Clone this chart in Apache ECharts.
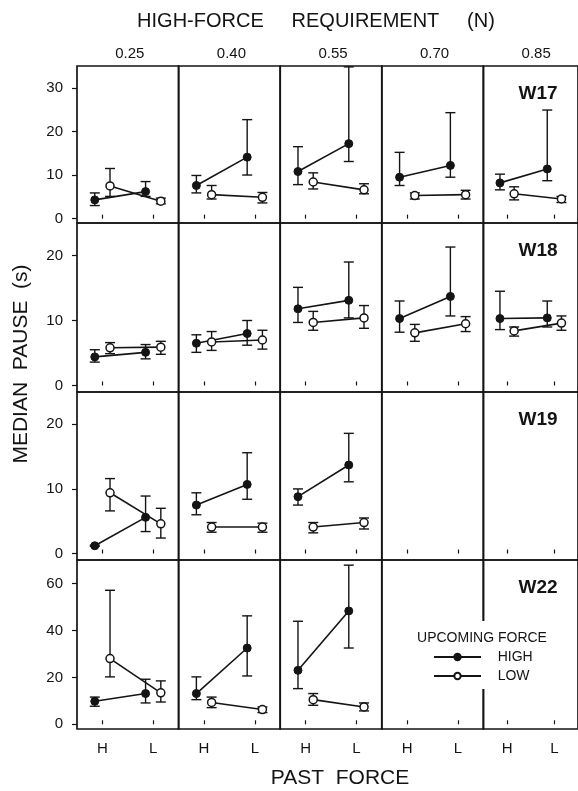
<!DOCTYPE html>
<html>
<head>
<meta charset="utf-8">
<script src="https://cdn.jsdelivr.net/npm/echarts@6/dist/echarts.min.js"></script>
<style>
html,body{margin:0;padding:0;background:#fff;}
#chart{width:578px;height:791px;}
</style>
</head>
<body>
<div id="chart"></div>
<script>
// ---------- data ----------
const FORCES = ['0.25', '0.40', '0.55', '0.70', '0.85'];   // high-force requirement (N)
const WORKERS = ['W17', 'W18', 'W19', 'W22'];
const PAST = ['H', 'L'];                                    // past force
const Y_TICKS = [[0, 10, 20, 30], [0, 10, 20], [0, 10, 20], [0, 20, 40, 60]];
const Y_MIN = [-1, -1, -1, -2];
const Y_MAX = [35, 25, 25, 70];

// each entry per force: [[median, lower, upper] for past H, [median, lower, upper] for past L]
const W17_HIGH = [
  [[4.3, 3.0, 5.9], [6.2, 5.1, 8.5]],
  [[7.6, 5.9, 9.9], [14.1, 10.0, 22.7]],
  [[10.8, 7.8, 16.5], [17.2, 13.1, 34.8]],
  [[9.5, 7.6, 15.2], [12.2, 9.5, 24.3]],
  [[8.2, 6.6, 10.2], [11.4, 8.7, 24.9]]
];
const W17_LOW = [
  [[7.5, 5.1, 11.5], [4.0, 3.4, 4.7]],
  [[5.5, 4.5, 7.6], [4.9, 3.6, 6.0]],
  [[8.4, 6.8, 10.5], [6.6, 5.7, 8.0]],
  [[5.3, 4.5, 5.9], [5.5, 4.5, 6.5]],
  [[5.7, 4.3, 7.3], [4.5, 3.7, 5.1]]
];
const W18_HIGH = [
  [[4.4, 3.6, 5.5], [5.1, 4.1, 6.3]],
  [[6.5, 5.1, 7.8], [8.0, 6.2, 10.0]],
  [[11.8, 9.7, 15.1], [13.1, 10.4, 19.0]],
  [[10.3, 8.2, 13.0], [13.7, 10.7, 21.3]],
  [[10.3, 8.6, 14.5], [10.4, 9.0, 13.0]]
];
const W18_LOW = [
  [[5.8, 4.9, 6.6], [5.9, 4.8, 6.8]],
  [[6.7, 5.4, 8.3], [7.0, 5.6, 8.5]],
  [[9.7, 8.5, 11.4], [10.4, 8.8, 12.3]],
  [[8.1, 6.8, 9.4], [9.5, 8.3, 10.6]],
  [[8.4, 7.6, 9.0], [9.6, 8.5, 10.7]]
];
const W19_HIGH = [
  [[1.2, 1.1, 1.3], [5.6, 3.4, 8.9]],
  [[7.5, 6.0, 9.4], [10.7, 8.4, 15.6]],
  [[8.8, 7.5, 10.0], [13.7, 11.1, 18.6]],
  null,
  null
];
const W19_LOW = [
  [[9.4, 6.6, 11.6], [4.6, 2.4, 7.0]],
  [[4.1, 3.3, 4.8], [4.1, 3.3, 4.7]],
  [[4.1, 3.2, 4.8], [4.8, 3.8, 5.5]],
  null,
  null
];
const W22_HIGH = [
  [[9.8, 7.7, 11.6], [13.1, 9.1, 19.2]],
  [[13.1, 10.5, 20.2], [32.5, 20.6, 46.2]],
  [[23.0, 15.2, 43.9], [48.3, 32.5, 67.8]],
  null,
  null
];
const W22_LOW = [
  [[28.0, 20.2, 57.1], [13.4, 9.5, 18.5]],
  [[9.3, 7.1, 11.6], [6.3, 5.0, 7.4]],
  [[10.5, 8.1, 13.1], [7.4, 5.7, 9.1]],
  null,
  null
];
const HIGH_BY_WORKER = [W17_HIGH, W18_HIGH, W19_HIGH, W22_HIGH];
const LOW_BY_WORKER = [W17_LOW, W18_LOW, W19_LOW, W22_LOW];

// ---------- layout ----------
const INK = '#141414';
const FONT = '"Liberation Sans", Arial, Helvetica, sans-serif';
const COL_LEFT0 = 77, COL_W = 101.6;
const ROW_TOP = [66, 223, 392, 560];
const ROW_H = [157, 169, 168, 169];
const DODGE = 0.15;

const grids = [], xAxes = [], yAxes = [], series = [];

function renderErr(params, api) {
  const x = api.value(0);
  const p1 = api.coord([x, api.value(1)]);
  const p2 = api.coord([x, api.value(2)]);
  const w = 5;
  const st = { stroke: INK, lineWidth: 1.4 };
  return {
    type: 'group',
    children: [
      { type: 'line', shape: { x1: p1[0], y1: p1[1], x2: p2[0], y2: p2[1] }, style: st },
      { type: 'line', shape: { x1: p1[0] - w, y1: p1[1], x2: p1[0] + w, y2: p1[1] }, style: st },
      { type: 'line', shape: { x1: p2[0] - w, y1: p2[1], x2: p2[0] + w, y2: p2[1] }, style: st }
    ]
  };
}

for (let r = 0; r < WORKERS.length; r++) {
  for (let c = 0; c < FORCES.length; c++) {
    const idx = r * FORCES.length + c;
    grids.push({
      left: COL_LEFT0 + c * COL_W, top: ROW_TOP[r], width: COL_W, height: ROW_H[r],
      show: true, borderColor: INK, borderWidth: 1.7, backgroundColor: 'transparent'
    });
    const bottomRow = r === WORKERS.length - 1;
    xAxes.push({
      gridIndex: idx, type: 'value', min: 0.5, max: 2.5,
      axisLine: { show: false }, splitLine: { show: false },
      axisTick: { show: true, inside: true, length: 4, customValues: [1, 2], lineStyle: { color: INK, width: 1.2 } },
      axisLabel: {
        show: bottomRow, customValues: [1, 2], margin: 12,
        formatter: v => PAST[Math.round(v) - 1] || '',
        color: INK, fontFamily: FONT, fontSize: 15
      }
    });
    const firstCol = c === 0;
    yAxes.push({
      gridIndex: idx, type: 'value', min: Y_MIN[r], max: Y_MAX[r],
      axisLine: { show: false }, splitLine: { show: false },
      axisTick: { show: firstCol, inside: false, length: 5, customValues: Y_TICKS[r], lineStyle: { color: INK, width: 1.2 } },
      axisLabel: { show: firstCol, customValues: Y_TICKS[r], margin: 14, color: INK, fontFamily: FONT, fontSize: 15 }
    });

    const hi = HIGH_BY_WORKER[r][c];
    const lo = LOW_BY_WORKER[r][c];
    if (hi) {
      const hx = PAST.map((p, i) => i + 1 - DODGE);
      series.push({
        type: 'custom', name: 'errHigh', xAxisIndex: idx, yAxisIndex: idx, silent: true, z: 2,
        renderItem: renderErr, encode: { x: 0, y: [1, 2] },
        data: hi.map((d, i) => [hx[i], d[1], d[2]])
      });
      series.push({
        type: 'line', name: 'HIGH', xAxisIndex: idx, yAxisIndex: idx, z: 3,
        data: hi.map((d, i) => [hx[i], d[0]]),
        symbol: 'circle', symbolSize: 8,
        lineStyle: { color: INK, width: 1.6 },
        itemStyle: { color: INK, borderColor: INK, borderWidth: 1 },
        emphasis: { disabled: true }, animation: false
      });
    }
    if (lo) {
      const lx = PAST.map((p, i) => i + 1 + DODGE);
      series.push({
        type: 'custom', name: 'errLow', xAxisIndex: idx, yAxisIndex: idx, silent: true, z: 2,
        renderItem: renderErr, encode: { x: 0, y: [1, 2] },
        data: lo.map((d, i) => [lx[i], d[1], d[2]])
      });
      series.push({
        type: 'line', name: 'LOW', xAxisIndex: idx, yAxisIndex: idx, z: 3,
        data: lo.map((d, i) => [lx[i], d[0]]),
        symbol: 'circle', symbolSize: 8,
        lineStyle: { color: INK, width: 1.6 },
        itemStyle: { color: '#fff', borderColor: INK, borderWidth: 1.5 },
        emphasis: { disabled: true }, animation: false
      });
    }
  }
}

const graphics = [];
// top title
graphics.push({ type: 'text', x: 316, y: 21, z: 60,
  style: { text: 'HIGH-FORCE     REQUIREMENT     (N)', font: '20px ' + FONT, fill: INK, align: 'center', verticalAlign: 'middle' } });
// column labels
FORCES.forEach((f, c) => graphics.push({ type: 'text', x: COL_LEFT0 + c * COL_W + COL_W / 2 + 2, y: 54, z: 60,
  style: { text: f, font: '15px ' + FONT, fill: INK, align: 'center', verticalAlign: 'middle' } }));
// worker labels
WORKERS.forEach((w, r) => graphics.push({ type: 'text', x: 538, y: ROW_TOP[r] + 28, z: 60,
  style: { text: w, font: 'bold 19px ' + FONT, fill: INK, align: 'center', verticalAlign: 'middle' } }));
// y title
graphics.push({ type: 'text', x: 21, y: 364, rotation: Math.PI / 2, z: 60,
  style: { text: 'MEDIAN  PAUSE  (s)', font: '21px ' + FONT, fill: INK, align: 'center', verticalAlign: 'middle' } });
// x title
graphics.push({ type: 'text', x: 340, y: 778, z: 60,
  style: { text: 'PAST  FORCE', font: '21px ' + FONT, fill: INK, align: 'center', verticalAlign: 'middle' } });
// gap in the panel boundary behind the legend
graphics.push({ type: 'rect', shape: { x: 477, y: 621, width: 10, height: 68 }, style: { fill: '#fff' }, z: 50 });
// legend heading
graphics.push({ type: 'text', x: 482, y: 638, z: 60,
  style: { text: 'UPCOMING FORCE', font: '14px ' + FONT, fill: INK, align: 'center', verticalAlign: 'middle' } });

const legendCommon = {
  orient: 'horizontal', left: 433, itemWidth: 47, itemHeight: 8, padding: 0, z: 60,
  selectedMode: false,
  textStyle: { color: INK, fontFamily: FONT, fontSize: 14 },
  formatter: n => '   ' + n
};

const option = {
  backgroundColor: '#fff',
  animation: false,
  grid: grids,
  xAxis: xAxes,
  yAxis: yAxes,
  series: series,
  graphic: { elements: graphics },
  legend: [
    Object.assign({}, legendCommon, { data: ['HIGH'], top: 650 }),
    Object.assign({}, legendCommon, { data: ['LOW'], top: 669 })
  ]
};

const chart = echarts.init(document.getElementById('chart'), null, { renderer: 'canvas' });
chart.setOption(option);
</script>
</body>
</html>
